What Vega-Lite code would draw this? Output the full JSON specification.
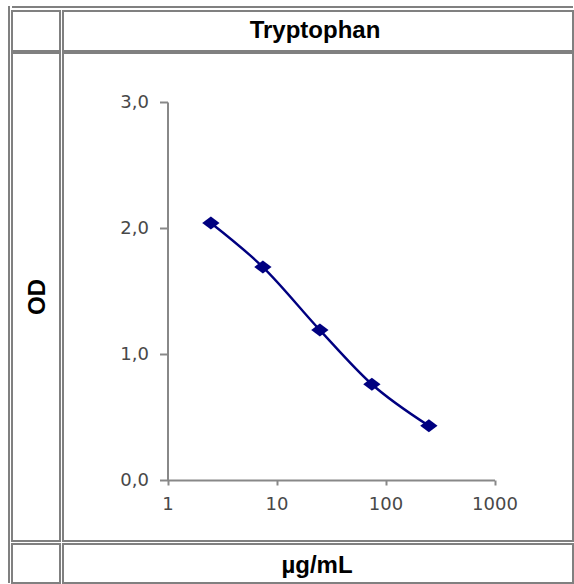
{
  "$schema": "https://vega.github.io/schema/vega-lite/v6.json",
  "background": "white",
  "padding": {"left": 8, "top": 6, "right": 0, "bottom": 0},
  "autosize": {"type": "pad"},
  "config": {
    "view": {"stroke": "#808080", "strokeWidth": 2},
    "font": "Liberation Sans",
    "text": {"font": "Liberation Sans"}
  },
  "spacing": 1,
  "hconcat": [
    {
      "width": 2,
      "height": 577,
      "view": {"fill": "#808080", "stroke": null},
      "data": {"values": []},
      "mark": {"type": "text"},
      "encoding": {"text": {"field": "label"}}
    },
    {
      "spacing": 2,
      "vconcat": [
        {
          "width": 561,
          "height": 2,
          "view": {"fill": "#808080", "stroke": null},
          "data": {"values": []},
          "mark": {"type": "text"},
          "encoding": {"text": {"field": "label"}}
        },
        {
          "spacing": 1,
          "vconcat": [
            {
              "spacing": 0,
              "vconcat": [
                {
                  "spacing": 1,
                  "hconcat": [
                    {
                      "width": 48,
                      "height": 40,
                      "view": {"stroke": "#808080", "strokeWidth": 2},
                      "data": {"values": []},
                      "mark": {"type": "text"},
                      "encoding": {"text": {"field": "label"}}
                    },
                    {
                      "width": 510,
                      "height": 40,
                      "view": {"stroke": "#808080", "strokeWidth": 2},
                      "data": {"values": [{"label": "Tryptophan"}]},
                      "mark": {"type": "text", "font": "Liberation Sans", "fontSize": 24, "fontWeight": "bold", "color": "#000000", "align": "center", "baseline": "alphabetic", "dx": -3, "dy": 6.5},
                      "encoding": {"text": {"field": "label"}}
                    }
                  ]
                },
                {
                  "spacing": 1,
                  "hconcat": [
                    {
                      "width": 48,
                      "height": 488,
                      "view": {"stroke": "#808080", "strokeWidth": 2},
                      "data": {"values": [{"label": "OD"}]},
                      "mark": {"type": "text", "font": "Liberation Sans", "fontSize": 24, "fontWeight": "bold", "color": "#000000", "align": "center", "baseline": "middle", "angle": 270, "dy": 2},
                      "encoding": {"text": {"field": "label"}}
                    },
                    {
                      "width": 510,
                      "height": 488,
                      "view": {"stroke": "#808080", "strokeWidth": 2},
                      "data": {
                        "values": [
                          {"conc": 2.5, "od": 2.04},
                          {"conc": 7.5, "od": 1.69},
                          {"conc": 25, "od": 1.19},
                          {"conc": 75, "od": 0.76},
                          {"conc": 250, "od": 0.43}
                        ]
                      },
                      "encoding": {
                        "x": {
                          "field": "conc",
                          "type": "quantitative",
                          "scale": {"type": "log", "domain": [1, 1000], "range": [104.5, 431.5], "nice": false},
                          "axis": {
                            "title": null,
                            "values": [1, 10, 100, 1000],
                            "format": "d",
                            "grid": false,
                            "offset": -61,
                            "domainColor": "#888888",
                            "domainWidth": 2,
                            "tickColor": "#888888",
                            "tickWidth": 2,
                            "tickSize": 5,
                            "labelColor": "#484848",
                            "labelFont": "DejaVu Sans",
                            "labelFontSize": 18,
                            "labelPadding": 10,
                            "labelFlush": false,
                            "labelOverlap": false
                          }
                        },
                        "y": {
                          "field": "od",
                          "type": "quantitative",
                          "scale": {"domain": [0, 3], "range": [427, 49], "nice": false, "zero": false},
                          "axis": {
                            "title": null,
                            "values": [0, 1, 2, 3],
                            "labelExpr": "replace(format(datum.value, '.1f'), '.', ',')",
                            "grid": false,
                            "offset": -104.5,
                            "domainColor": "#888888",
                            "domainWidth": 2,
                            "tickColor": "#888888",
                            "tickWidth": 2,
                            "tickSize": 8,
                            "labelColor": "#484848",
                            "labelFont": "DejaVu Sans",
                            "labelFontSize": 18,
                            "labelPadding": 11,
                            "labelFlush": false,
                            "labelOverlap": false
                          }
                        }
                      },
                      "layer": [
                        {
                          "mark": {"type": "line", "color": "#000080", "strokeWidth": 2.4, "interpolate": "monotone"}
                        },
                        {
                          "mark": {"type": "point", "shape": "M-1,0L0,-0.75L1,0L0,0.75Z", "filled": true, "color": "#000080", "size": 300, "opacity": 1}
                        }
                      ]
                    }
                  ]
                }
              ]
            },
            {
              "spacing": 1,
              "hconcat": [
                {
                  "width": 48,
                  "height": 39,
                  "view": {"stroke": "#808080", "strokeWidth": 2},
                  "data": {"values": []},
                  "mark": {"type": "text"},
                  "encoding": {"text": {"field": "label"}}
                },
                {
                  "width": 510,
                  "height": 39,
                  "view": {"stroke": "#808080", "strokeWidth": 2},
                  "data": {"values": [{"label": "µg/mL"}]},
                  "mark": {"type": "text", "font": "Liberation Sans", "fontSize": 24, "fontWeight": "bold", "color": "#000000", "align": "center", "baseline": "alphabetic", "dx": -1, "dy": 9},
                  "encoding": {"text": {"field": "label"}}
                }
              ]
            }
          ]
        }
      ]
    }
  ]
}
